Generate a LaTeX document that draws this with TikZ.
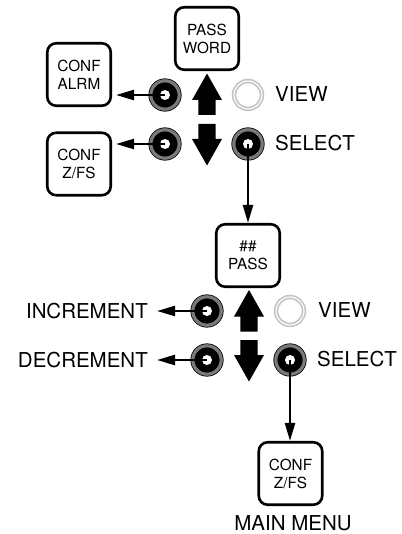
\documentclass[tikz,border=0pt]{standalone}
\usepackage{fontspec}
\setmainfont{TeX Gyre Heros}
\usetikzlibrary{arrows.meta}
\definecolor{ringgray}{HTML}{7A7A7A}
\definecolor{viewgray}{HTML}{C4C4C8}
\begin{document}
\begin{tikzpicture}[x=1pt,y=-1pt,
  menubox/.style={draw=black, line width=2.6pt, rounded corners=9pt, fill=white,
    minimum width=63.5pt, minimum height=62.5pt, inner sep=0pt, align=center,
    font=\fontsize{15.3}{18}\selectfont},
  lbl/.style={font=\fontsize{20.5}{24}\selectfont, inner sep=0pt},
  conn/.style={line width=2.3pt, -{Triangle[length=18pt,width=10pt]}},
  btn/.style={circle, minimum size=28.4pt, inner sep=0pt, fill=black, draw=black,
    line width=0.8pt, double=ringgray, double distance=3.2pt,
    path picture={\fill[white] (path picture bounding box.center) circle (5pt);}},
  viewbtn/.style={circle, minimum size=28pt, inner sep=0pt, fill=white, draw=viewgray,
    line width=1.7pt, double=white, double distance=1.1pt},
  uparrow/.pic={\fill[black] (0,0) -- (15,26.5) -- (8.7,26.5) -- (8.7,41.5) -- (-8.7,41.5)
    -- (-8.7,26.5) -- (-15,26.5) -- cycle;},
  downarrow/.pic={\fill[black] (-8.7,0) -- (8.7,0) -- (8.7,15) -- (15,15) -- (0,41.5)
    -- (-15,15) -- (-8.7,15) -- cycle;},
]
\useasboundingbox (0,0) rectangle (401,534);

% ---- first group ----
\node[menubox] (pw)   at (207,38.5) {PASS\\WORD};
\node[menubox] (alrm) at (79,74.5) {CONF\\ALRM};
\node[menubox] (zfs1) at (79,164) {CONF\\Z/FS};

\node[btn] (alrmbtn) at (165,95) {};
\node[btn] (zfsbtn)  at (165,144) {};
\node[viewbtn] (view1) at (248,95) {};
\node[btn] (sel1)    at (248,144) {};

\pic at (207,73.5) {uparrow};
\pic at (207,124) {downarrow};

\node[lbl, anchor=west] (view1lbl) at (275,94) {VIEW};
\node[lbl, anchor=west] (sel1lbl)  at (275,143.5) {SELECT};

\draw[conn] (alrmbtn.center) -- ([xshift=4pt]alrmbtn.center -| alrm.east);
\draw[conn] (zfsbtn.center) -- ([xshift=4pt]zfsbtn.center -| zfs1.east);

% ---- second group ----
\node[menubox] (pass2) at (248,255.5) {\#\#\\PASS};

\node[btn] (incbtn) at (207,311) {};
\node[btn] (decbtn) at (207,360) {};
\node[viewbtn] (view2) at (290,311) {};
\node[btn] (sel2)   at (290,360) {};

\pic at (249,290) {uparrow};
\pic at (249,340) {downarrow};

\node[lbl, anchor=west] (view2lbl) at (318,310.5) {VIEW};
\node[lbl, anchor=west] (sel2lbl)  at (317,359.5) {SELECT};
\node[lbl, anchor=east] (inc) at (148,311) {INCREMENT};
\node[lbl, anchor=east] (dec) at (148,360) {DECREMENT};

\draw[conn] (incbtn.center) -- ([xshift=9pt]inc.east);
\draw[conn] (decbtn.center) -- ([xshift=9pt]dec.east);

\draw[conn] (sel1.center) -- (sel1.center |- pass2.north);

% ---- bottom ----
\node[menubox] (zfs2) at (290.5,473.5) {CONF\\Z/FS};
\node[lbl] (mainmenu) at (293,523) {MAIN MENU};

\draw[conn] (sel2.center) -- (sel2.center |- zfs2.north);
\end{tikzpicture}
\end{document}
